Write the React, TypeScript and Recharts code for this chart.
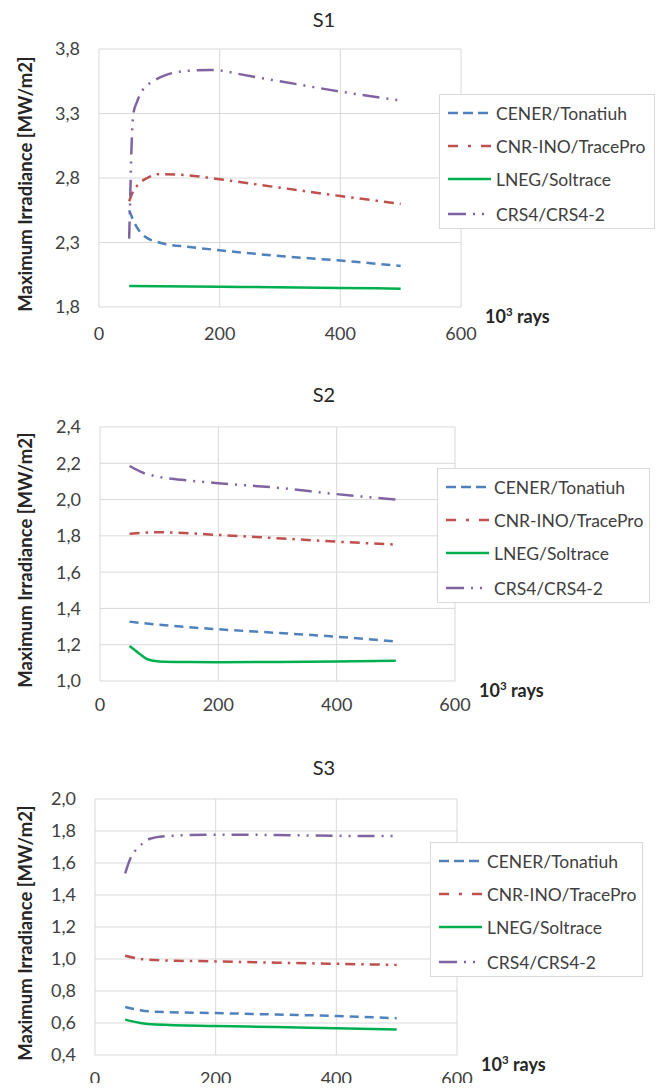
import React from 'react';
import { LineChart, Line, XAxis, YAxis, CartesianGrid, Legend } from 'recharts';

type Pt = { x: number; y: number };

const FONT = "Lato, 'Open Sans', sans-serif";

const seriesNames = ['CENER/Tonatiuh', 'CNR-INO/TracePro', 'LNEG/Soltrace', 'CRS4/CRS4-2'];
const seriesColors = ['#4F81BD', '#C0504D', '#00B050', '#8064A2'];
const seriesDash = ['9 6', '10 6 2.5 6', undefined, '17 7 2 7 2 7'];
const legendDash = ['10 5', '10 10 3 10 10 40', undefined, '18 7 2 7 2 40'];

const xTicks = [0, 200, 400, 600];

// ---- S1 ----
const s1Cener: Pt[] = [
  { x: 50, y: 2.55 }, { x: 60, y: 2.44 }, { x: 75, y: 2.35 }, { x: 100, y: 2.3 },
  { x: 150, y: 2.265 }, { x: 200, y: 2.24 }, { x: 300, y: 2.195 }, { x: 400, y: 2.16 }, { x: 500, y: 2.118 },
];
const s1Cnr: Pt[] = [
  { x: 50, y: 2.62 }, { x: 55, y: 2.68 }, { x: 65, y: 2.75 }, { x: 80, y: 2.8 }, { x: 100, y: 2.83 },
  { x: 150, y: 2.82 }, { x: 200, y: 2.79 }, { x: 300, y: 2.725 }, { x: 400, y: 2.66 }, { x: 500, y: 2.6 },
];
const s1Lneg: Pt[] = [
  { x: 50, y: 1.963 }, { x: 200, y: 1.957 }, { x: 400, y: 1.948 }, { x: 500, y: 1.942 },
];
const s1Crs4: Pt[] = [
  { x: 50, y: 2.33 }, { x: 52, y: 2.7 }, { x: 54, y: 3.05 }, { x: 57, y: 3.3 }, { x: 63, y: 3.39 },
  { x: 72, y: 3.48 }, { x: 90, y: 3.55 }, { x: 115, y: 3.605 }, { x: 150, y: 3.632 }, { x: 185, y: 3.638 },
  { x: 250, y: 3.59 }, { x: 300, y: 3.55 }, { x: 400, y: 3.47 }, { x: 500, y: 3.4 },
];
const s1YTicks = [1.8, 2.3, 2.8, 3.3, 3.8];

// ---- S2 ----
const s2Cener: Pt[] = [
  { x: 50, y: 1.327 }, { x: 100, y: 1.31 }, { x: 200, y: 1.285 }, { x: 300, y: 1.265 }, { x: 400, y: 1.244 }, { x: 500, y: 1.217 },
];
const s2Cnr: Pt[] = [
  { x: 50, y: 1.812 }, { x: 100, y: 1.82 }, { x: 200, y: 1.805 }, { x: 300, y: 1.787 }, { x: 400, y: 1.768 }, { x: 500, y: 1.752 },
];
const s2Lneg: Pt[] = [
  { x: 50, y: 1.193 }, { x: 65, y: 1.155 }, { x: 80, y: 1.12 }, { x: 100, y: 1.108 }, { x: 150, y: 1.105 },
  { x: 200, y: 1.104 }, { x: 300, y: 1.105 }, { x: 400, y: 1.108 }, { x: 500, y: 1.112 },
];
const s2Crs4: Pt[] = [
  { x: 50, y: 2.185 }, { x: 75, y: 2.145 }, { x: 100, y: 2.125 }, { x: 150, y: 2.105 }, { x: 200, y: 2.09 },
  { x: 300, y: 2.065 }, { x: 400, y: 2.03 }, { x: 500, y: 2.0 },
];
const s2YTicks = [1.0, 1.2, 1.4, 1.6, 1.8, 2.0, 2.2, 2.4];

// ---- S3 ----
const s3Cener: Pt[] = [
  { x: 50, y: 0.7 }, { x: 75, y: 0.68 }, { x: 100, y: 0.67 }, { x: 200, y: 0.662 }, { x: 300, y: 0.653 }, { x: 400, y: 0.644 }, { x: 500, y: 0.63 },
];
const s3Cnr: Pt[] = [
  { x: 50, y: 1.02 }, { x: 75, y: 1.0 }, { x: 100, y: 0.993 }, { x: 200, y: 0.985 }, { x: 300, y: 0.977 }, { x: 400, y: 0.97 }, { x: 500, y: 0.963 },
];
const s3Lneg: Pt[] = [
  { x: 50, y: 0.621 }, { x: 75, y: 0.6 }, { x: 100, y: 0.59 }, { x: 200, y: 0.581 }, { x: 300, y: 0.575 }, { x: 400, y: 0.567 }, { x: 500, y: 0.56 },
];
const s3Crs4: Pt[] = [
  { x: 50, y: 1.535 }, { x: 60, y: 1.64 }, { x: 70, y: 1.69 }, { x: 80, y: 1.725 }, { x: 90, y: 1.75 }, { x: 100, y: 1.76 },
  { x: 125, y: 1.77 }, { x: 200, y: 1.777 }, { x: 300, y: 1.775 }, { x: 400, y: 1.77 }, { x: 500, y: 1.768 },
];
const s3YTicks = [0.4, 0.6, 0.8, 1.0, 1.2, 1.4, 1.6, 1.8, 2.0];

const fmt = (v: number) => v.toFixed(1).replace('.', ',');

const legendRows = [18, 51, 84, 119];

const LegendBox = ({ width }: { width: number }) => (
  <div
    style={{
      width,
      height: 135,
      border: '1px solid #D9D9D9',
      background: '#fff',
      boxSizing: 'border-box',
      position: 'relative',
      fontFamily: FONT,
      fontSize: 17.5,
      color: '#404040',
    }}
  >
    {seriesNames.map((n, i) => (
      <div
        key={n}
        style={{ position: 'absolute', left: 0, top: legendRows[i] - 11, height: 22, display: 'flex', alignItems: 'center', whiteSpace: 'nowrap' }}
      >
        <svg width={56} height={22} style={{ display: 'block' }}>
          <line x1={8} x2={51} y1={11} y2={11} stroke={seriesColors[i]} strokeWidth={2.5} strokeDasharray={legendDash[i]} />
        </svg>
        <span>{n}</span>
      </div>
    ))}
  </div>
);

type ChartProps = {
  title: string;
  top: number;
  height: number;
  plotTop: number;
  plotBottom: number;
  plotLeft: number;
  plotRight: number;
  domain: [number, number];
  yTicks: number[];
  series: Pt[][];
  legendLeft: number;
  legendTop: number;
  legendWidth: number;
  titleY: number;
  xTickMargin: number;
};

const YLabel = (props: any) => {
  const vb = props.viewBox || {};
  const cy = vb.y + vb.height / 2 + 6;
  const cx = 25;
  return (
    <text
      x={cx}
      y={cy}
      transform={`rotate(-90, ${cx}, ${cy})`}
      textAnchor="middle"
      dominantBaseline="central"
      fontFamily={FONT}
      fontWeight={700}
      fontSize={18.5}
      fill="#262626"
    >
      Maximum Irradiance [MW/m2]
    </text>
  );
};

const XLabel = (props: any) => {
  const vb = props.viewBox || {};
  const x = vb.x + vb.width + 24;
  const y = vb.y + 16;
  return (
    <text x={x} y={y} fontFamily={FONT} fontWeight={700} fontSize={18} fill="#262626">
      10
      <tspan dy={-7} fontSize={11.5}>3</tspan>
      <tspan dy={7}> rays</tspan>
    </text>
  );
};

const Chart = (p: ChartProps) => {
  const W = 664;
  const yAxisWidth = 60;
  const xAxisHeight = 30;
  return (
    <div style={{ position: 'absolute', left: 0, top: p.top, width: W, height: p.height }}>
      <div
        style={{
          position: 'absolute',
          left: 0,
          width: 648,
          top: p.titleY - 12,
          height: 24,
          lineHeight: '24px',
          textAlign: 'center',
          fontFamily: FONT,
          fontSize: 20,
          color: '#262626',
        }}
      >
        {p.title}
      </div>
      <LineChart
        width={W}
        height={p.height}
        margin={{
          top: p.plotTop,
          right: W - p.plotRight,
          left: p.plotLeft - yAxisWidth,
          bottom: p.height - p.plotBottom - xAxisHeight,
        }}
      >
        <CartesianGrid stroke="#D9D9D9" strokeWidth={1} />
        <XAxis
          type="number"
          dataKey="x"
          domain={[0, 600]}
          ticks={xTicks}
          axisLine={false}
          tickLine={false}
          height={xAxisHeight}
          tickMargin={p.xTickMargin}
          tick={{ fontFamily: FONT, fontSize: 18, fill: '#404040' }}
          interval={0}
          allowDataOverflow
          label={<XLabel />}
        />
        <YAxis
          type="number"
          domain={p.domain}
          ticks={p.yTicks}
          tickFormatter={fmt}
          axisLine={false}
          tickLine={false}
          width={yAxisWidth}
          tickMargin={13}
          tick={{ fontFamily: FONT, fontSize: 18, fill: '#404040' }}
          interval={0}
          allowDataOverflow
          label={<YLabel />}
        />
        {p.series.map((d, i) => (
          <Line
            key={seriesNames[i]}
            data={d}
            dataKey="y"
            name={seriesNames[i]}
            type="monotone"
            stroke={seriesColors[i]}
            strokeWidth={2.5}
            strokeDasharray={seriesDash[i]}
            dot={false}
            activeDot={false}
            isAnimationActive={false}
          />
        ))}
        <Legend
          layout="vertical"
          align="center"
          verticalAlign="middle"
          wrapperStyle={{ left: p.legendLeft, top: p.legendTop, width: p.legendWidth, height: 135 }}
          content={() => <LegendBox width={p.legendWidth} />}
        />
      </LineChart>
    </div>
  );
};

export default function App() {
  return (
    <div style={{ position: 'relative', margin: -8, width: 664, height: 1091, background: '#fff', overflow: 'hidden' }}>
      <Chart
        title="S1"
        top={0}
        height={360}
        titleY={19}
        plotTop={49}
        plotBottom={307}
        plotLeft={99}
        plotRight={461}
        domain={[1.8, 3.8]}
        yTicks={s1YTicks}
        series={[s1Cener, s1Cnr, s1Lneg, s1Crs4]}
        legendLeft={439}
        legendTop={94}
        legendWidth={216}
        xTickMargin={14}
      />
      <Chart
        title="S2"
        top={360}
        height={360}
        titleY={34}
        plotTop={67}
        plotBottom={321}
        plotLeft={100}
        plotRight={455}
        domain={[1.0, 2.4]}
        yTicks={s2YTicks}
        series={[s2Cener, s2Cnr, s2Lneg, s2Crs4]}
        legendLeft={437}
        legendTop={108}
        legendWidth={213}
        xTickMargin={11}
      />
      <Chart
        title="S3"
        top={720}
        height={371}
        titleY={47}
        plotTop={79}
        plotBottom={335}
        plotLeft={95}
        plotRight={457}
        domain={[0.4, 2.0]}
        yTicks={s3YTicks}
        series={[s3Cener, s3Cnr, s3Lneg, s3Crs4]}
        legendLeft={430}
        legendTop={122}
        legendWidth={213}
        xTickMargin={11}
      />
    </div>
  );
}
